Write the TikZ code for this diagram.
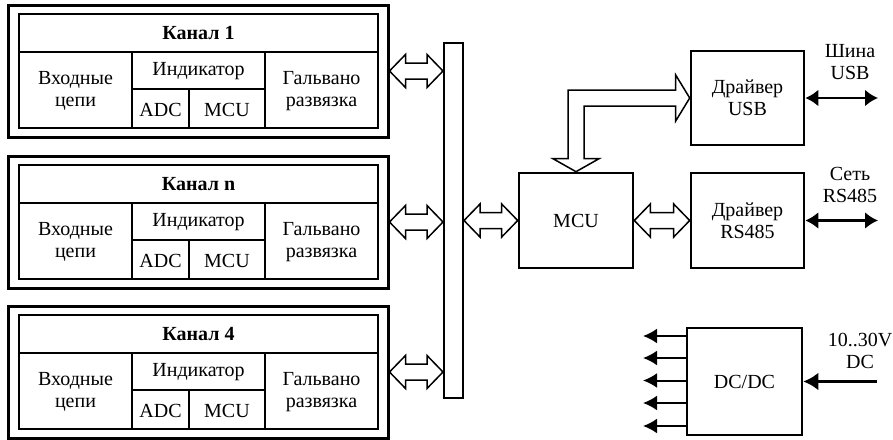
\documentclass[tikz,border=0pt]{standalone}
\usepackage{fontspec}
\setmainfont{Liberation Serif}
\usetikzlibrary{calc,arrows.meta}
\newcommand\diafont{\fontsize{20}{22.5}\selectfont}
\tikzset{
  obox/.style={draw, line width=3pt, rectangle, inner sep=0pt},
  ibox/.style={draw, line width=1.6pt},
  blk/.style={draw, line width=2.6pt, rectangle, inner sep=0pt, align=center},
  bus/.style={draw, line width=2pt, rectangle, inner sep=0pt},
  txt/.style={inner sep=0pt, align=center},
  harrow/.style={draw, line width=1.5pt, fill=white, line join=miter},
  sig/.style={line width=2.8pt, {Latex[length=13pt,width=17pt]}-{Latex[length=13pt,width=17pt]}},
  pin/.style={line width=3.2pt, -{Latex[length=15pt,width=18pt]}},
  pout/.style={line width=2pt, -{Latex[length=14pt,width=15pt]}},
}
\newcommand\chanbox[3]{%
  \begin{scope}[shift={(0,#2)}]
    \node[obox, minimum width=380pt, minimum height=132pt] (#1) at (198,66) {};
    \draw[ibox] (19,9) rectangle (378,123);
    \draw[ibox] (19,47) -- (378,47);
    \draw[ibox] (132,47) -- (132,123);
    \draw[ibox] (265,47) -- (265,123);
    \draw[ibox] (132,84) -- (265,84);
    \draw[ibox] (189,84) -- (189,123);
    \node[txt, font=\diafont\bfseries] (#1-t) at (198.5,28) {#3};
    \node[txt] (#1-in) at (75.5,86) {Входные\\цепи};
    \node[txt] (#1-ind) at (198.5,66) {Индикатор};
    \node[txt] (#1-adc) at (160.5,104.5) {ADC};
    \node[txt] (#1-mcu) at (227,104.5) {MCU};
    \node[txt] (#1-gal) at (321.5,86) {Гальвано\\развязка};
  \end{scope}}
% hollow double arrow between two points on one horizontal line
\newcommand\hdbl[2]{%
  \draw[harrow] let \p1=(#1), \p2=(#2) in
    (\x1,\y1) -- (\x1+16pt,\y1+16.5pt) -- (\x1+16pt,\y1+8pt) -- (\x2-16pt,\y1+8pt)
    -- (\x2-16pt,\y1+16.5pt) -- (\x2,\y1) -- (\x2-16pt,\y1-16.5pt) -- (\x2-16pt,\y1-8pt)
    -- (\x1+16pt,\y1-8pt) -- (\x1+16pt,\y1-16.5pt) -- cycle;}
\begin{document}
\begin{tikzpicture}[x=1pt,y=-1pt, font=\diafont]
\useasboundingbox (0,0) rectangle (893,439);

\chanbox{ch1}{5}{Канал 1}
\chanbox{chn}{156}{Канал n}
\chanbox{ch4}{306}{Канал 4}

\node[bus, minimum width=19pt, minimum height=355pt] (bus) at (453.5,220.5) {};

\node[blk, minimum width=114pt, minimum height=95pt] (mcu) at (576,220.5) {MCU};
\node[blk, minimum width=113pt, minimum height=94pt] (usb) at (747.5,98) {Драйвер\\USB};
\node[blk, minimum width=113pt, minimum height=95pt] (rs) at (747.5,220.5) {Драйвер\\RS485};
\node[blk, minimum width=115pt, minimum height=107pt] (dcdc) at (744.5,381.5) {DC/DC};

% hollow bus arrows
\hdbl{ch1.east}{bus.west |- ch1.east}
\hdbl{chn.east}{bus.west |- chn.east}
\hdbl{ch4.east}{bus.west |- ch4.east}
\hdbl{bus.east |- mcu.west}{mcu.west}
\hdbl{mcu.east}{rs.west}

% L-shaped hollow arrow MCU <-> USB driver
\draw[harrow] let \p1=(usb.west), \p2=(mcu.north) in
  (\x1,\y1) -- (\x1-14pt,\y1+23pt) -- (\x1-14pt,\y1+8pt) -- (\x2-8pt,\y1+8pt)
  -- (\x2-8pt,\y2+13pt) -- (\x2-23pt,\y2+13pt) -- (\x2,\y2) -- (\x2+23pt,\y2+13pt)
  -- (\x2+8pt,\y2+13pt) -- (\x2+8pt,\y1-8pt) -- (\x1-14pt,\y1-8pt) -- (\x1-14pt,\y1-23pt) -- cycle;

% external interfaces
\coordinate (usbout) at (878,98);
\coordinate (rsout) at (878,220.5);
\draw[sig] (usb.east) -- (usbout);
\draw[sig] (rs.east) -- (rsout);
\node[txt] (usblbl) at (850,62) {Шина\\USB};
\node[txt] (rslbl) at (850,185) {Сеть\\RS485};

% power
\coordinate (dcin) at (877,381.5);
\draw[pin] (dcin) -- (dcdc.east);
\node[txt] (dclbl) at (860,351) {10..30V\\DC};
\coordinate (o1) at (643,336);
\coordinate (o2) at (643,358);
\coordinate (o3) at (643,380.5);
\coordinate (o4) at (643,403);
\coordinate (o5) at (643,426);
\foreach \o in {o1,o2,o3,o4,o5}
  \draw[pout] (\o -| dcdc.west) -- (\o);
\end{tikzpicture}
\end{document}
